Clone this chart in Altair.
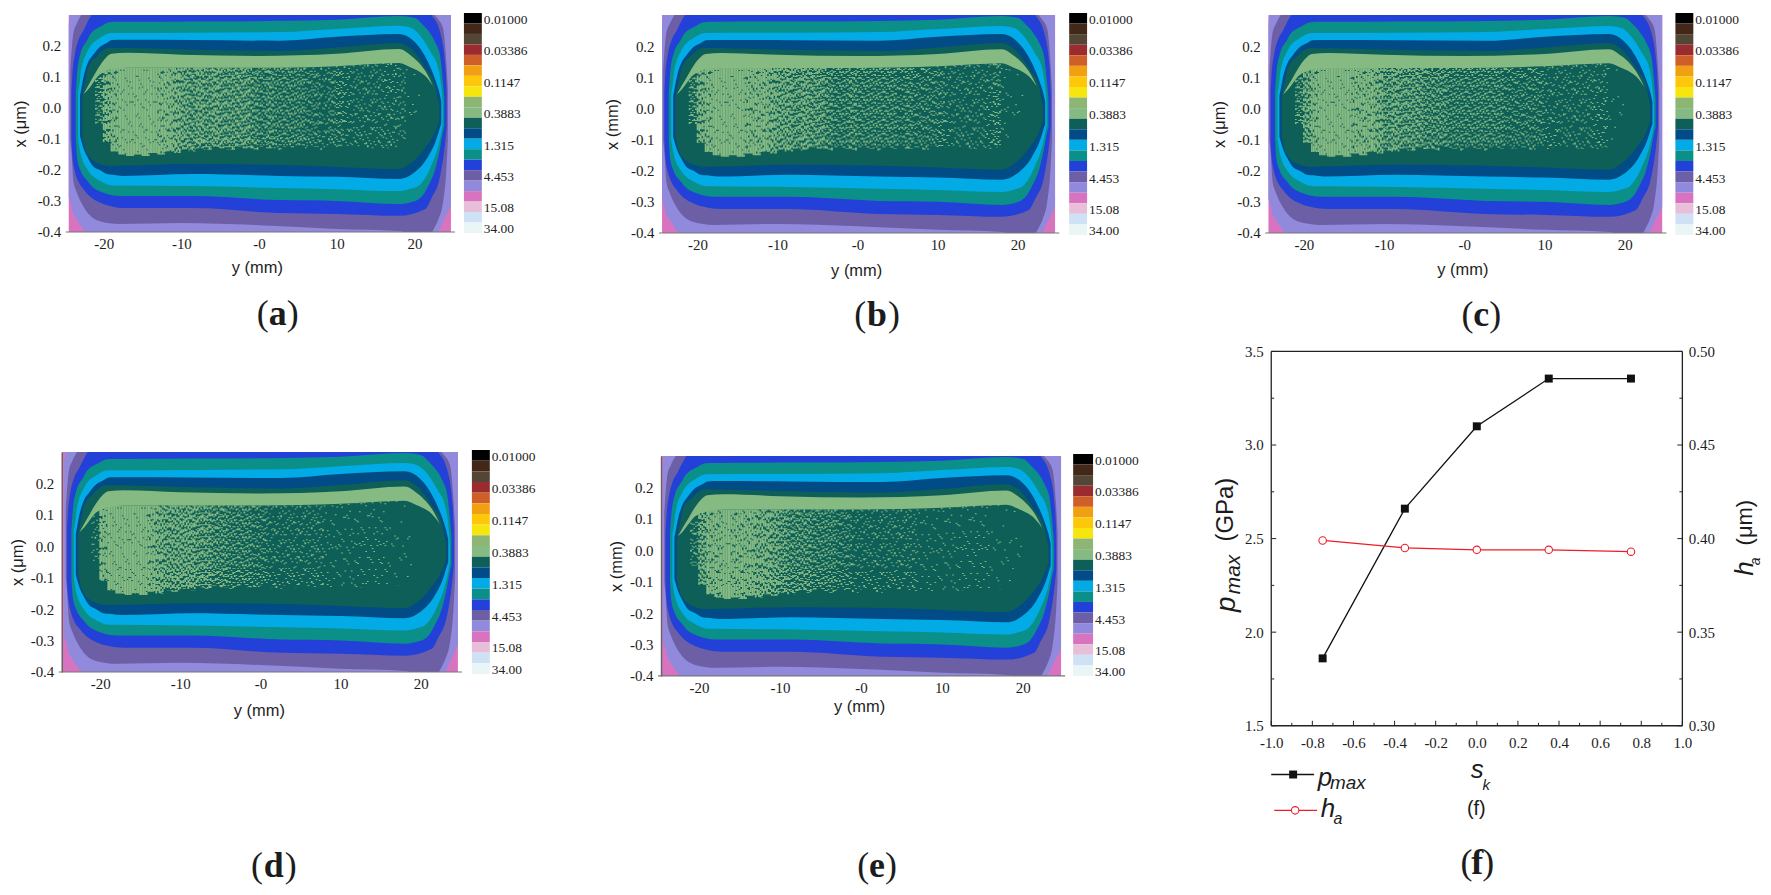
import altair as alt
import pandas as pd

SERIF = "Liberation Serif"
SANS = "Liberation Sans"

# ---------- contour bands: y (mm), upper x, lower x ----------
pink_y = [-26, 26]
pink_up = [0.33, 0.33]
pink_lo = [-0.42, -0.42]

lav_y = [-24.5, -24.2, -23.9, -22.8, -21.75, -10, 10, 21.5, 23.0, 23.9, 24.9]
lav_up = [0.27, 0.33, 0.33, 0.33, 0.33, 0.33, 0.33, 0.33, 0.33, 0.33, 0.33]
lav_lo = [-0.289, -0.31, -0.343, -0.386, -0.42, -0.42, -0.42, -0.42, -0.405, -0.354, -0.316]

slate_y = [-24.3, -24.15, -23.9, -23.5, -23.0, -22.0, -20.5, -18, -10, 0, 10, 18, 21.5, 22.7, 23.1, 23.7, 24.1, 24.3]
slate_up = [0.12, 0.177, 0.242, 0.27, 0.295, 0.33, 0.33, 0.33, 0.33, 0.33, 0.33, 0.33, 0.33, 0.297, 0.285, 0.255, 0.15, 0.06]
slate_lo = [-0.10, -0.139, -0.235, -0.27, -0.30, -0.34, -0.365, -0.374, -0.371, -0.378, -0.39, -0.397, -0.42, -0.38, -0.358, -0.30, -0.20, -0.10]

blue_y = [-24.15, -24.05, -23.7, -23.3, -22.6, -21.8, -20.5, -19.2, -17, -8.6, 2.6, 10, 18, 21.4, 22.2, 23.3, 24.0, 24.15]
blue_up = [0.05, 0.10, 0.175, 0.215, 0.25, 0.29, 0.33, 0.33, 0.33, 0.33, 0.33, 0.33, 0.33, 0.33, 0.30, 0.245, 0.13, 0.05]
blue_lo = [-0.10, -0.15, -0.205, -0.235, -0.262, -0.285, -0.305, -0.316, -0.323, -0.323, -0.339, -0.342, -0.348, -0.326, -0.29, -0.22, -0.10, -0.06]

teal_y = [-23.6, -23.4, -23.0, -22.1, -21.8, -20.2, -19.2, -17.9, -8.6, 2.6, 10, 18, 20.1, 21, 21.8, 22.7, 23.3, 23.65, 23.85]
teal_up = [0.05, 0.12, 0.175, 0.22, 0.235, 0.265, 0.277, 0.278, 0.279, 0.281, 0.285, 0.297, 0.29, 0.27, 0.248, 0.21, 0.168, 0.09, 0.03]
teal_lo = [-0.10, -0.165, -0.20, -0.235, -0.245, -0.272, -0.28, -0.284, -0.284, -0.297, -0.30, -0.31, -0.30, -0.284, -0.25, -0.195, -0.13, -0.08, -0.06]

sky_y = [-23.3, -23.05, -22.95, -22.05, -20.5, -18.9, -8.6, 2.6, 10, 18, 19.6, 20.5, 21.4, 22.1, 23.1, 23.45, 23.65]
sky_up = [0.05, 0.09, 0.115, 0.185, 0.226, 0.242, 0.243, 0.245, 0.255, 0.265, 0.258, 0.24, 0.21, 0.18, 0.125, 0.07, 0.01]
sky_lo = [-0.10, -0.139, -0.15, -0.20, -0.235, -0.25, -0.252, -0.258, -0.262, -0.268, -0.26, -0.252, -0.225, -0.19, -0.12, -0.08, -0.05]

navy_y = [-23.05, -22.9, -22.6, -22.05, -21.4, -20.5, -19.6, -18.9, -17.5, -8.6, 2.6, 10, 18, 19.9, 21.8, 22.9, 23.2, 23.45]
navy_up = [0.04, 0.06, 0.10, 0.145, 0.17, 0.197, 0.21, 0.219, 0.22, 0.219, 0.217, 0.23, 0.239, 0.216, 0.145, 0.075, 0.05, 0.02]
navy_lo = [-0.09, -0.105, -0.13, -0.16, -0.187, -0.20, -0.213, -0.215, -0.219, -0.213, -0.219, -0.222, -0.229, -0.21, -0.155, -0.095, -0.07, -0.05]

dgreen_y = [-22.75, -22.55, -22.3, -22.05, -20.85, -19.2, -8.6, 2.6, 10, 18, 19.6, 21.5, 22.7, 23.0, 23.2]
dgreen_up = [0.04, 0.065, 0.095, 0.126, 0.168, 0.194, 0.188, 0.184, 0.195, 0.21, 0.19, 0.126, 0.071, 0.03, 0.01]
dgreen_lo = [-0.09, -0.115, -0.139, -0.15, -0.177, -0.187, -0.181, -0.184, -0.19, -0.197, -0.177, -0.125, -0.075, -0.055, -0.04]

lgreen_y = [-22.6, -22.0, -21.4, -20.7, -19.8, -19.0, -17, -10, 0, 10, 18, 19.6, 20.6, 21.4, 22.0, 22.4]
lgreen_up = [0.045, 0.072, 0.098, 0.129, 0.160, 0.175, 0.178, 0.172, 0.168, 0.175, 0.19, 0.168, 0.145, 0.119, 0.092, 0.071]
lgreen_lo = [0.045, 0.06, 0.08, 0.103, 0.118, 0.125, 0.13, 0.13, 0.13, 0.135, 0.145, 0.13, 0.118, 0.103, 0.085, 0.071]

bands = [
    (pink_y, pink_up, pink_lo, "#d874bf"),
    (lav_y, lav_up, lav_lo, "#9189dc"),
    (slate_y, slate_up, slate_lo, "#6c5fa6"),
    (blue_y, blue_up, blue_lo, "#2340d8"),
    (teal_y, teal_up, teal_lo, "#0a8f89"),
    (sky_y, sky_up, sky_lo, "#02abe6"),
    (navy_y, navy_up, navy_lo, "#014c87"),
    (dgreen_y, dgreen_up, dgreen_lo, "#0d5f57"),
    (lgreen_y, lgreen_up, lgreen_lo, "#86ba83"),
]

# ---------- speckled zone: columns per mm, and share of light cells in each ----------
spk_y = list(range(-21, 22))
spk_top = [0.10, 0.125, 0.13, 0.13, 0.13, 0.13, 0.13, 0.13, 0.13, 0.13, 0.13, 0.13, 0.13, 0.13, 0.13, 0.13, 0.13,
           0.13, 0.13, 0.13, 0.13, 0.13, 0.13, 0.13, 0.13, 0.13, 0.13, 0.13, 0.13, 0.13, 0.13, 0.135, 0.135, 0.14,
           0.14, 0.14, 0.14, 0.145, 0.145, 0.13, 0.125, 0.11, 0.09]
spk_bot = [-0.05, -0.11, -0.14, -0.15, -0.155, -0.15, -0.155, -0.145, -0.15, -0.14, -0.145, -0.135, -0.14, -0.13,
           -0.135, -0.125, -0.13, -0.135, -0.125, -0.13, -0.135, -0.125, -0.13, -0.135, -0.125, -0.13, -0.12, -0.13,
           -0.125, -0.135, -0.12, -0.13, -0.125, -0.13, -0.12, -0.13, -0.125, -0.13, -0.125, -0.10, -0.06, -0.03, 0.0]
dens_a = [.3, .7, .88, .92, .93, .93, .92, .9, .88, .82, .72, .6, .5, .55, .5, .55, .5, .45, .5, .5, .4, .35, .4, .3, .28,
          .3, .25, .18, .22, .15, .18, .2, .12, .15, .15, .08, .1, .1, .12, .08, .03, .02, 0]
dens_b = [.3, .7, .88, .93, .94, .94, .92, .88, .82, .78, .68, .62, .58, .5, .55, .48, .5, .42, .3, .3, .38, .35, .3, .3,
          .28, .25, .22, .32, .2, .18, .22, .2, .12, .12, .15, .1, .12, .12, .2, .05, .02, .02, 0]
dens_c = [.25, .6, .85, .9, .92, .92, .9, .85, .82, .78, .7, .45, .55, .52, .5, .5, .4, .42, .4, .35, .3, .28, .25, .3, .3,
          .25, .22, .2, .18, .18, .18, .15, .12, .12, .12, .1, .08, .08, .15, .03, .02, 0, 0]
dens_d = [.15, .8, .92, .94, .94, .93, .9, .85, .7, .62, .6, .55, .55, .5, .45, .4, .38, .3, .28, .25, .22, .18, .15, .15,
          .12, .12, .1, .1, .08, .07, .07, .07, .05, .05, .04, .05, .05, .03, .02, .01, 0, 0, 0]
dens_e = [.2, .55, .8, .88, .9, .88, .85, .8, .72, .65, .55, .45, .38, .4, .4, .35, .3, .25, .2, .18, .15, .15, .13, .12,
          .12, .1, .1, .08, .07, .07, .07, .07, .06, .05, .05, .05, .04, .03, .03, .02, .01, 0, 0]

dash_share = [0.95, 0.85, 0.70, 0.60, 0.50, 0.40, 0.30, 0.20, 0.10, 0.05, 0.02]
dash_variants = [
    [[19, 1], [13, 1, 23, 1], [29, 1, 7, 1]],
    [[7, 1, 11, 2, 5, 1], [9, 2, 4, 1], [6, 1, 13, 3]],
    [[5, 2, 3, 1, 6, 3], [4, 2, 7, 3], [3, 1, 2, 2, 8, 3]],
    [[3, 2, 4, 3, 2, 1], [2, 1, 5, 4, 3, 2], [4, 3, 2, 1, 3, 2]],
    [[2, 2, 3, 3, 1, 1], [1, 2, 3, 1, 2, 3], [4, 3, 1, 2, 1, 1]],
    [[2, 3, 1, 2, 3, 4], [1, 2, 2, 4, 1, 1], [3, 4, 1, 1, 1, 3]],
    [[1, 2, 2, 5, 1, 3], [1, 3, 1, 1, 2, 6], [2, 4, 1, 3, 1, 3]],
    [[1, 3, 1, 6, 2, 7], [1, 5, 1, 2, 1, 6], [2, 8, 1, 3, 1, 4]],
    [[1, 7, 1, 13, 1, 6], [1, 11, 1, 5, 1, 9], [2, 17, 1, 7]],
    [[1, 17, 1, 23], [1, 29, 1, 11], [1, 13, 1, 31]],
    [[1, 47], [1, 61], [1, 37]],
]
dash_names = [f"d{i}v{j}" for i in range(len(dash_share)) for j in range(3)]
dash_styles = [s for group in dash_variants for s in group]
phases = [0.0, 0.2, 0.4, 0.6, 0.8]
phase_offsets = [0, 11, 5, 17, 3]

# ---------- colour bar ----------
cb_colors = ["#000000", "#43281a", "#534636", "#9a2b2e", "#cf5f28", "#f2a013", "#fdc70c", "#f6e60d", "#8db574",
             "#86ba83", "#0d5f57", "#014c87", "#02abe6", "#0a8f89", "#2340d8", "#6c5fa6", "#9189dc", "#d874bf",
             "#e7bfd8", "#cfe2f5", "#eaf5f6"]
cb_label_pos = [0.65, 3.62, 6.67, 9.62, 12.67, 15.7, 18.6, 20.6]
cb_labels = ["0.01000", "0.03386", "0.1147", "0.3883", "1.315", "4.453", "15.08", "34.00"]

x_ticks = [-20, -10, 0, 10, 20]
y_ticks = [-0.4, -0.3, -0.2, -0.1, 0.0, 0.1, 0.2]

# ---------- panel (f) ----------
sk = [-0.75, -0.35, 0.0, 0.35, 0.75]
pmax = [1.86, 2.66, 3.10, 3.355, 3.355]
ha = [0.399, 0.395, 0.394, 0.394, 0.393]
f_x_major = [-1.0, -0.8, -0.6, -0.4, -0.2, 0.0, 0.2, 0.4, 0.6, 0.8, 1.0]
f_x_minor = [-0.9, -0.7, -0.5, -0.3, -0.1, 0.1, 0.3, 0.5, 0.7, 0.9]
f_l_major = [1.5, 2.0, 2.5, 3.0, 3.5]
f_l_minor = [1.75, 2.25, 2.75, 3.25]
f_r_major = [0.30, 0.35, 0.40, 0.45, 0.50]
f_r_minor = [0.325, 0.375, 0.425, 0.475]

ONE = pd.DataFrame({"k": [0]})

# shared plot origins per column
COL1, COL2, COL3 = 62, 664, 1271


def txt(x, y, s, size, font=SERIF, **kw):
    kw.setdefault("color", "#1c1c1c")
    return alt.Chart(ONE).mark_text(text=s, fontSize=size, font=font, baseline="middle", **kw).encode(
        x=alt.value(x), y=alt.value(y))


def box(l, t, r, b):
    return alt.Chart(ONE).mark_rect(opacity=0).encode(
        x=alt.value(l), x2=alt.value(r), y=alt.value(t), y2=alt.value(b))


def caption(cx, base, letter):
    sizes = {"a": 15, "b": 17, "c": 14, "d": 17, "e": 14, "f": 11}
    off = sizes[letter]
    s = 36
    return [
        txt(cx - off, base, "(", s),
        txt(cx, base, letter, s, fontWeight="bold"),
        txt(cx + off, base, ")", s),
    ]


def contour_panel(dens, rect, G, dom, cb, ytitle, ytitle_x, xt, domain_y, cap, boxr):
    L, T, R, B = rect
    H = B - T
    ox = L - G
    W = R - G
    xs = alt.Scale(domain=dom, range=[ox, W], nice=False, zero=False, clamp=True)
    ys = alt.Scale(domain=[-0.4, 0.3], nice=False, zero=False)
    xa = alt.Axis(values=x_ticks, grid=False, ticks=False, domain=False, labelFont=SERIF, labelFontSize=15,
                  labelColor="#1c1c1c", labelPadding=5, labelFlush=False,
                  labelExpr="datum.value==0?'-0':(datum.value<0?'-':'')+format(abs(datum.value),'d')",
                  title="y (mm)", titleFont=SANS, titleFontSize=16.5, titleFontWeight="normal", titleColor="#1c1c1c",
                  titleX=xt[0] + ox, titleY=xt[1], titleBaseline="middle")
    ya = alt.Axis(values=y_ticks, grid=False, ticks=False, domain=domain_y, domainColor="#666", domainWidth=1.5,
                  labelFont=SERIF, labelFontSize=15, labelColor="#1c1c1c", labelPadding=8, offset=-ox,
                  labelExpr="(datum.value<0?'-':'')+format(abs(datum.value),'.1f')",
                  title=ytitle, titleFont=SANS, titleFontSize=16.5, titleFontWeight="normal", titleColor="#1c1c1c",
                  titleX=ytitle_x, titleY=H / 2, titleBaseline="middle", zindex=1)
    layers = []
    for i, (by, bu, bl, col) in enumerate(bands):
        d = pd.DataFrame({"y": by, "u": bu, "l": bl})
        layers.append(
            alt.Chart(d).mark_area(color=col, clip=True, interpolate="monotone" if i > 1 else "linear").encode(
                x=alt.X("y:Q", scale=xs, axis=xa if i == 0 else None),
                y=alt.Y("u:Q", scale=ys, axis=ya if i == 0 else None),
                y2="l:Q",
            ))
    rows = []
    for col_i, (yy, t, b, v) in enumerate(zip(spk_y, spk_top, spk_bot, dens)):
        if v <= 0:
            continue
        k = min(range(len(dash_share)), key=lambda q: abs(dash_share[q] - v))
        rows.append({"y": yy, "t": t, "b": b, "k": k, "i": col_i})
    base = pd.DataFrame(rows)
    for pi, (ph, off) in enumerate(zip(phases, phase_offsets)):
        d = base.assign(y=base["y"] + ph,
                        c=[f"d{k}v{(i + pi) % 3}" for k, i in zip(base["k"], base["i"])])
        layers.append(
            alt.Chart(d).mark_rule(color="#86ba83", strokeWidth=1.7, strokeDashOffset=off, clip=True).encode(
                x=alt.X("y:Q", scale=xs, axis=None),
                y=alt.Y("t:Q", scale=ys, axis=None),
                y2="b:Q",
                strokeDash=alt.StrokeDash("c:N", scale=alt.Scale(domain=dash_names, range=dash_styles), legend=None),
            ))
    # colour bar
    cl, ct, cr, cbm = cb
    cells = pd.DataFrame({"i": list(range(21)), "j": list(range(1, 22)), "c": cb_colors, "a": 0, "b": 1})
    cx = alt.Scale(domain=[0, 1], range=[cl - G, cr - G])
    cy = alt.Scale(domain=[0, 21], range=[ct - T, cbm - T], nice=False, zero=False)
    bar = alt.Chart(cells).mark_rect().encode(
        x=alt.X("a:Q", scale=cx, axis=None), x2="b:Q",
        y=alt.Y("i:Q", scale=cy, axis=None), y2="j:Q",
        color=alt.Color("c:N", scale=None, legend=None))
    lab_df = pd.DataFrame({"p": cb_label_pos, "t": cb_labels, "x": 1})
    labs = alt.Chart(lab_df).mark_text(align="left", baseline="middle", dx=2, font=SERIF, fontSize=13.5,
                                       color="#222222").encode(
        x=alt.X("x:Q", scale=cx, axis=None), y=alt.Y("p:Q", scale=cy, axis=None), text="t:N")
    rule = alt.Chart(ONE).mark_rule(color="#777777", strokeWidth=1.2).encode(
        x=alt.value(ox - 3), x2=alt.value(W + 4), y=alt.value(H))
    caps = caption(cap[0] - G, cap[1] - T, cap[2])
    frame = box(boxr[0] - G, boxr[1] - T, boxr[2] - G, boxr[3] - T)
    return alt.layer(
        *layers, bar, labs, rule, *caps, frame,
    ).resolve_scale(x="independent", y="independent").properties(width=W, height=H)


pa = contour_panel(dens_a, (69, 14, 453, 232), COL1, [-24.5, 24.7], (466, 12, 484, 233), "x (μm)", -48, (189, 36), False,
                   (279, 314, "a"), (8, 9, 590, 340))
pb = contour_panel(dens_b, (665, 13, 1060, 232), COL2, [-24.44, 24.7], (1074, 11, 1092, 234), "x (mm)", -50, (195, 38), False,
                   (881, 314, "b"), (590, 9, 1193, 340))
pc = contour_panel(dens_c, (1271, 13, 1667, 232), COL3, [-24.44, 24.7], (1680, 11, 1698, 234), "x (μm)", -49, (195, 37), False,
                   (1485, 314, "c"), (1190, 9, 1765, 340))
pd_ = contour_panel(dens_d, (62, 452, 460, 673), COL1, [-24.8, 24.66], (474, 450, 492, 675), "x (μm)", -44, (198, 39), True,
                    (275, 868, "d"), (8, 340, 590, 890))
pe = contour_panel(dens_e, (664, 456, 1066, 677), COL2, [-24.7, 24.75], (1078, 454, 1098, 677), "x (mm)", -45, (199, 31), True,
                   (881, 868, "e"), (590, 340, 1193, 890))

# ---------- panel (f) ----------
FL, FT, FR, FB = 1274, 352, 1687, 728
FO = FL - COL3
FW, FH = FR - COL3, FB - FT
fx = alt.Scale(domain=[-1, 1], range=[FO, FW], nice=False, zero=False)
fyl = alt.Scale(domain=[1.5, 3.5], nice=False, zero=False)
fyr = alt.Scale(domain=[0.3, 0.5], nice=False, zero=False)
dff = pd.DataFrame({"s": sk, "p": pmax, "h": ha})
x_axis = alt.Axis(values=f_x_major, grid=False, ticks=False, domain=False, labelFont=SERIF, labelFontSize=15,
                  labelColor="#1c1c1c", labelPadding=10, labelFlush=False, title=None,
                  labelExpr="(datum.value<0?'-':'')+format(abs(datum.value),'.1f')")
yl_axis = alt.Axis(values=f_l_major, format=".1f", grid=False, ticks=False, domain=False, labelFont=SERIF,
                   labelFontSize=15, labelColor="#1c1c1c", labelPadding=8, title=None, offset=-FO)
yr_axis = alt.Axis(values=f_r_major, format=".2f", orient="right", grid=False, ticks=False, domain=False,
                   labelFont=SERIF, labelFontSize=15, labelColor="#1c1c1c", labelPadding=6, title=None)

line_p = alt.Chart(dff).mark_line(color="#111111", strokeWidth=1.3).encode(
    x=alt.X("s:Q", scale=fx, axis=x_axis), y=alt.Y("p:Q", scale=fyl, axis=yl_axis))
pts_p = alt.Chart(dff).mark_point(shape="square", filled=True, color="#111111", size=64, opacity=1).encode(
    x=alt.X("s:Q", scale=fx, axis=None), y=alt.Y("p:Q", scale=fyl, axis=None))
line_h = alt.Chart(dff).mark_line(color="#ee1c25", strokeWidth=1.3).encode(
    x=alt.X("s:Q", scale=fx, axis=None), y=alt.Y("h:Q", scale=fyr, axis=yr_axis))
pts_h = alt.Chart(dff).mark_point(shape="circle", filled=True, fill="white", stroke="#ee1c25", strokeWidth=1.1,
                                  size=56, opacity=1).encode(
    x=alt.X("s:Q", scale=fx, axis=None), y=alt.Y("h:Q", scale=fyr, axis=None))


def xticks(vals, ln):
    return alt.Chart(pd.DataFrame({"t": vals})).mark_rule(color="#222", strokeWidth=1).encode(
        x=alt.X("t:Q", scale=fx, axis=None), y=alt.value(FH), y2=alt.value(FH - ln))


def yticks(vals, scale, x0, x1):
    return alt.Chart(pd.DataFrame({"t": vals})).mark_rule(color="#222", strokeWidth=1).encode(
        y=alt.Y("t:Q", scale=scale, axis=None), x=alt.value(x0), x2=alt.value(x1))


def ftxt(px, py, s, size, font=SANS, **kw):
    return txt(px - COL3, py - FT, s, size, font=font, **kw)


def frame_h(y):
    return alt.Chart(ONE).mark_rule(color="#222222", strokeWidth=1.3).encode(
        x=alt.value(FO), x2=alt.value(FW), y=alt.value(y))


def frame_v(x):
    return alt.Chart(ONE).mark_rule(color="#222222", strokeWidth=1.3).encode(
        y=alt.value(0), y2=alt.value(FH), x=alt.value(x))


f_text = [
    ftxt(1229, 511, "(GPa)", 24, angle=270),
    ftxt(1237, 576, "max", 21, angle=270, fontStyle="italic"),
    ftxt(1230, 606, "p", 28, angle=270, fontStyle="italic"),
    ftxt(1750, 524, "(μm)", 22, angle=270),
    ftxt(1750, 570, "h", 26, angle=270, fontStyle="italic"),
    ftxt(1761, 563, "a", 14, angle=270, fontStyle="italic"),
    ftxt(1481, 772, "s", 26, fontStyle="italic"),
    ftxt(1490, 788, "k", 15, fontStyle="italic"),
    ftxt(1480, 812, "(f)", 20),
    ftxt(1328, 781, "p", 26, fontStyle="italic"),
    ftxt(1351, 786, "max", 19, fontStyle="italic"),
    ftxt(1331, 812, "h", 26, fontStyle="italic"),
    ftxt(1341, 822, "a", 16, fontStyle="italic"),
]
leg_line1 = alt.Chart(ONE).mark_rule(color="#111111", strokeWidth=1.3).encode(
    x=alt.value(1274 - COL3), x2=alt.value(1317 - COL3), y=alt.value(777 - FT))
leg_pt1 = alt.Chart(ONE).mark_point(shape="square", filled=True, color="#111111", size=64, opacity=1).encode(
    x=alt.value(1296 - COL3), y=alt.value(777 - FT))
leg_line2 = alt.Chart(ONE).mark_rule(color="#ee1c25", strokeWidth=1.3).encode(
    x=alt.value(1277 - COL3), x2=alt.value(1320 - COL3), y=alt.value(813 - FT))
leg_pt2 = alt.Chart(ONE).mark_point(shape="circle", filled=True, fill="white", stroke="#ee1c25", strokeWidth=1.1,
                                    size=56, opacity=1).encode(
    x=alt.value(1298 - COL3), y=alt.value(813 - FT))
f_caps = caption(1481 - COL3, 866 - FT, "f")
f_frame = box(1190 - COL3, 341 - FT, 1765 - COL3, 890 - FT)

pf = alt.layer(
    line_p, pts_p,
    xticks(f_x_major, 5), xticks(f_x_minor, 3), yticks(f_l_major, fyl, FO, FO + 5), yticks(f_l_minor, fyl, FO, FO + 3),
    line_h, pts_h,
    yticks(f_r_major, fyr, FW, FW - 5), yticks(f_r_minor, fyr, FW, FW - 3),
    frame_h(0), frame_h(FH), frame_v(FO), frame_v(FW),
    *f_text, leg_line1, leg_pt1, leg_line2, leg_pt2, *f_caps, f_frame,
).resolve_scale(x="independent", y="independent").properties(width=FW, height=FH)

chart = alt.concat(pa, pb, pc, pd_, pe, pf, columns=3, spacing=0, align="none").properties(
    padding=0, background="white").configure_view(stroke=None)

chart.save("out.html", embed_options={"renderer": "svg", "actions": False})
